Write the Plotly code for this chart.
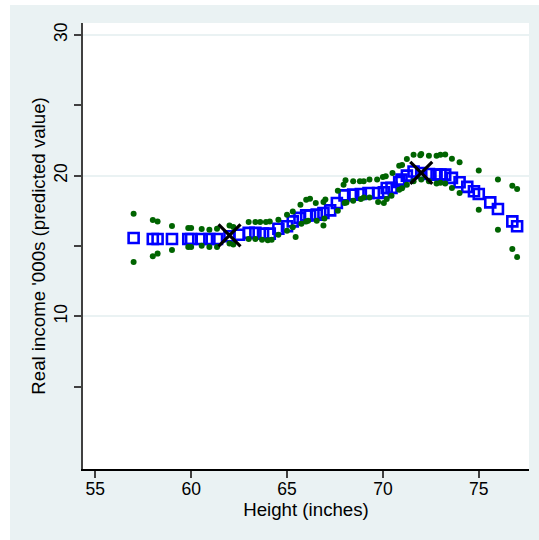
import plotly.graph_objects as go

# Predicted values (blue hollow squares)
height = [57.0, 58.0, 58.25, 59.0, 59.85, 60.0, 60.55, 60.95, 61.35, 62.0, 62.5, 63.0, 63.35,
          63.75, 64.1, 64.55, 65.0, 65.3, 65.65, 66.0, 66.2, 66.55, 66.9, 67.25, 67.6, 68.0,
          68.45, 68.85, 69.25, 69.75, 70.05, 70.2, 70.45, 70.85, 70.97, 71.25, 71.6, 72.0,
          72.4, 72.8, 73.0, 73.25, 73.6, 74.0, 74.4, 74.75, 75.0, 75.6, 76.0, 76.75, 77.0]
predicted = [15.57, 15.5, 15.5, 15.5, 15.5, 15.5, 15.5, 15.5, 15.5, 15.69, 15.8, 15.93, 15.93,
             15.88, 15.88, 16.23, 16.4, 16.75, 17.0, 17.18, 17.18, 17.23, 17.35, 17.53, 18.06, 18.6,
             18.65, 18.7, 18.77, 18.77, 18.82, 19.12, 19.13, 19.55, 19.72, 20.0, 20.3, 20.19,
             20.12, 20.07, 20.07, 20.07, 19.84, 19.53, 19.2, 18.89, 18.7, 18.1, 17.63, 16.75, 16.4]

# Upper band (green dots)
upper_x = [57.0, 58.0, 58.25, 59.0, 59.85, 60.0, 60.55, 60.95, 61.35, 62.0, 62.2, 63.0, 63.35,
           63.6, 63.9, 64.1, 64.55, 65.0, 65.3, 65.7, 66.0, 66.2, 66.5, 66.9, 67.0, 67.65, 67.95,
           68.05, 68.45, 68.8, 69.0, 69.3, 69.7, 70.0, 70.15, 70.5, 70.85, 71.0, 71.25, 71.6,
           72.0, 71.95, 72.4, 72.8, 73.0, 73.25, 73.6, 74.0, 75.0, 76.0, 76.75, 77.0]
upper_y = [17.3, 16.85, 16.75, 16.42, 16.28, 16.28, 16.21, 16.16, 16.23, 16.45, 16.35, 16.71, 16.71,
           16.71, 16.7, 16.75, 16.87, 17.23, 17.46, 17.94, 18.29, 18.35, 18.06, 18.13, 18.3, 18.93, 19.36,
           19.67, 19.6, 19.6, 19.6, 19.72, 19.72, 19.9, 19.95, 20.19, 20.71, 20.75, 21.19, 21.49,
           21.54, 21.45, 21.42, 21.42, 21.48, 21.5, 21.2, 20.95, 20.36, 19.72, 19.29, 19.05]

# Lower band (green dots)
lower_x = [57.0, 58.0, 58.25, 59.0, 59.85, 60.0, 60.55, 60.95, 61.35, 62.0, 62.2, 63.0, 63.35,
           63.7, 64.0, 64.2, 64.55, 65.0, 65.3, 65.45, 65.75, 66.0, 66.1, 66.55, 66.9, 66.95,
           67.65, 68.0, 68.1, 68.45, 68.85, 69.0, 69.3, 69.75, 70.05, 70.2, 70.45, 70.85, 71.0,
           71.25, 71.6, 72.0, 72.4, 72.8, 73.0, 73.25, 73.6, 74.0, 75.0, 76.0, 76.75, 77.0]
lower_y = [13.87, 14.27, 14.46, 14.72, 14.93, 14.93, 15.02, 14.93, 14.93, 15.17, 15.1, 15.5, 15.5,
           15.45, 15.4, 15.45, 15.8, 16.09, 16.33, 15.64, 16.59, 16.75, 16.8, 16.8, 16.45, 16.95,
           17.51, 18.06, 18.1, 18.22, 18.34, 18.45, 18.45, 18.13, 18.06, 18.34, 18.58, 19.0, 19.1,
           19.36, 19.6, 19.72, 19.6, 19.45, 19.5, 19.45, 19.12, 18.77, 17.58, 16.16, 14.79, 14.22]

# Highlighted points (black X)
mark_x = [62.0, 72.0]
mark_y = [15.75, 20.2]

x_ticks = [55, 60, 65, 70, 75]
y_ticks = [10, 20, 30]
y_minor = [5, 15, 25]

BG = "#EAF2F3"
FONT = "Liberation Sans, Arial, sans-serif"

fig = go.Figure()
fig.add_trace(go.Scatter(x=height, y=predicted, mode="markers",
                         marker=dict(symbol="square-open", size=10, color="#0000FF",
                                     line=dict(width=2.6, color="#0000FF")),
                         showlegend=False))
fig.add_trace(go.Scatter(x=upper_x + lower_x, y=upper_y + lower_y, mode="markers",
                         marker=dict(symbol="circle", size=6, color="#006400"),
                         showlegend=False))
fig.add_trace(go.Scatter(x=mark_x, y=mark_y, mode="markers",
                         marker=dict(symbol="x-thin-open", size=22, color="black",
                                     line=dict(width=3.2, color="black")),
                         showlegend=False))

W, H = 539, 540
L, R, T, B = 83, 10, 23, 71
pw, ph = W - L - R, H - T - B

fig.update_layout(
    width=W, height=H,
    margin=dict(l=L, r=R, t=T, b=B, autoexpand=False),
    paper_bgcolor=BG, plot_bgcolor="white",
    font=dict(family=FONT, size=18, color="black"),
    shapes=[
        dict(type="rect", xref="paper", yref="paper", layer="above",
             x0=-L / pw - 0.01, x1=-(L - 10) / pw, y0=-B / ph - 0.05, y1=(ph + T) / ph + 0.05,
             fillcolor="white", line=dict(width=0)),
        dict(type="rect", xref="paper", yref="paper", layer="above",
             x0=-L / pw - 0.05, x1=(pw + R) / pw + 0.05, y0=(ph + T - 5) / ph, y1=(ph + T) / ph + 0.05,
             fillcolor="white", line=dict(width=0)),
    ],
)
fig.update_xaxes(
    range=[54.36, 77.62], tickvals=x_ticks, ticktext=[str(v) for v in x_ticks],
    showgrid=False, zeroline=False, showline=True, linecolor="black", linewidth=1.5,
    ticks="outside", ticklen=7, tickwidth=1.5, tickcolor="#404040",
    tickfont=dict(size=17.5), ticklabelstandoff=-4,
    title=dict(text="Height (inches)", font=dict(size=18.7), standoff=1),
)
fig.update_yaxes(
    range=[-0.85, 30.85], tickvals=y_ticks, ticktext=[str(v) for v in y_ticks],
    showgrid=True, gridcolor=BG, gridwidth=1.5, zeroline=False,
    showline=True, linecolor="#404040", linewidth=1.5,
    ticks="outside", ticklen=7, tickwidth=1.5, tickcolor="#404040",
    tickangle=-90, tickfont=dict(size=17.5), ticklabelstandoff=0,
    minor=dict(tickvals=y_minor, ticks="outside", ticklen=7, tickwidth=1.5,
               tickcolor="#404040", showgrid=False),
    title=dict(text="Real income '000s (predicted value)", font=dict(size=18.7), standoff=1),
)

fig.write_html("out.html", config={"displayModeBar": False},
               post_script="document.body.style.margin='0';")
